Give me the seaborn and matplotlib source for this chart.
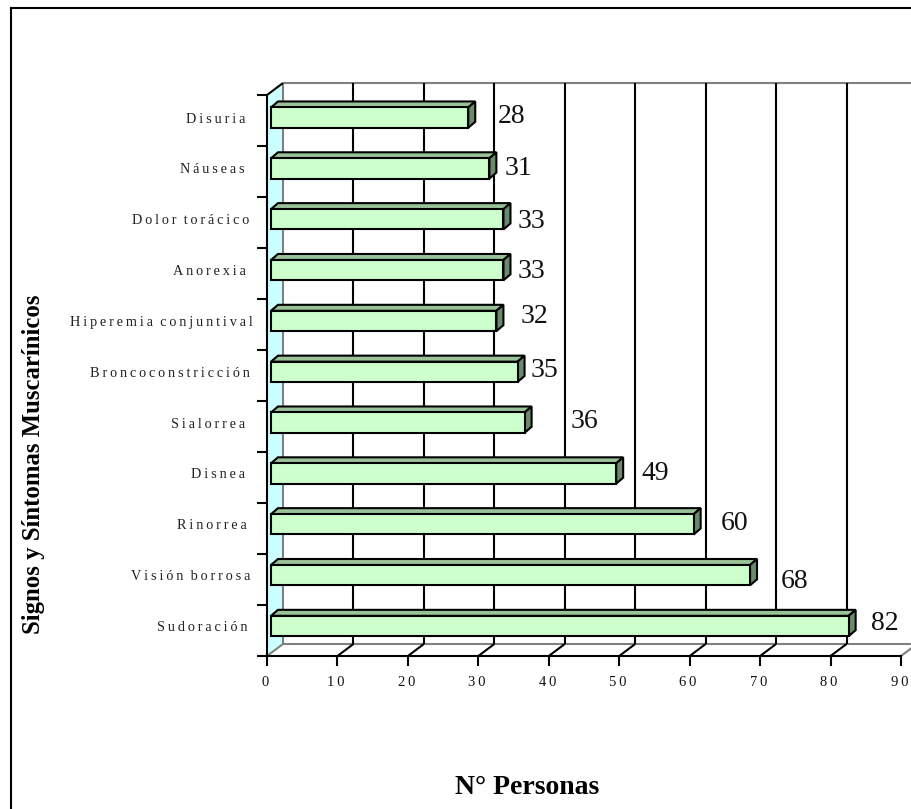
import matplotlib
matplotlib.use("Agg")
import matplotlib.pyplot as plt
import numpy as np
import pandas as pd
import seaborn as sns
from matplotlib.lines import Line2D
from matplotlib.patches import Polygon
from matplotlib.transforms import Affine2D, IdentityTransform

# ---- data ----
categories = ["Disuria", "Náuseas", "Dolor torácico", "Anorexia", "Hiperemia conjuntival",
              "Broncoconstricción", "Sialorrea", "Disnea", "Rinorrea", "Visión borrosa", "Sudoración"]
personas = [28, 31, 33, 33, 32, 35, 36, 49, 60, 68, 82]
x_ticks = [0, 10, 20, 30, 40, 50, 60, 70, 80, 90]
x_title = "N° Personas"
y_title = "Signos y Síntomas Muscarínicos"

# ---- style / placement (pixels) ----
label_dx = [47, 33, 32, 32, 42, 31, 64, 43, 45, 49, 40]
label_dy = [-1, 0, 2, 1, -4, -1, -1, 0, -1, 6, -3]
label_right = [245, 245, 249, 246, 253, 250, 245, 245, 247, 250, 248]
W, H = 912, 809
DX, DY = 16, 12          # depth of the chart box
BAR_SHIFT = 4
BAR_DX, BAR_DY = 7, 6    # depth of each bar
FACE, TOP, SIDE = "#CCFFCC", "#99C299", "#6B8A6B"
WALL, GREY = "#CCFFFF", "#808080"
LW = 1.5
SERIF = "Liberation Serif"
THIN = "\u2009"


def spaced(s):
    return "  ".join(THIN.join(w) for w in s.split(" "))


sns.set_theme(style="white")
plt.rcParams["font.family"] = [SERIF, "DejaVu Serif"]

fig = plt.figure(figsize=(W / 100, H / 100), dpi=100)
ax = fig.add_axes([267 / W, (H - 656) / H, (901 - 267) / W, (656 - 95) / H])
df = pd.DataFrame({"cat": categories, "n": personas})
sns.barplot(data=df, x="n", y="cat", orient="h", order=categories, color=FACE, saturation=1,
            edgecolor="black", linewidth=LW, width=0.40, ax=ax, zorder=5)
ax.set_xlim(0, 90)
ax.set_ylim(10.59, -0.445)
ax.set_xlabel("")
ax.set_ylabel("")

# axes cosmetics
for s in ("top", "right"):
    ax.spines[s].set_visible(False)
for s in ("left", "bottom"):
    ax.spines[s].set_color("black")
    ax.spines[s].set_linewidth(LW)
    ax.spines[s].set_zorder(8)
ax.set_xticks(x_ticks)
ax.set_xticklabels([THIN.join(str(v)) for v in x_ticks], fontsize=10.5, color="#111111")
ax.tick_params(axis="x", length=7.2, width=LW, pad=7, color="black", bottom=True)
for lab in ax.get_xticklabels():
    lab.set_transform(lab.get_transform() + Affine2D().translate(-1.5, 0))
ax.set_yticks(range(len(categories)))
ax.set_yticklabels([spaced(c) for c in categories], fontsize=10.3, color="#222222")
ax.tick_params(axis="y", which="major", length=0, left=False)
for t, r in zip(ax.yaxis.get_major_ticks(), label_right):
    t.set_pad((267 - r) * 0.72)
ax.set_yticks(np.linspace(-0.445, 10.59, len(categories) + 1), minor=True)
ax.tick_params(axis="y", which="minor", length=7.2, width=LW, color="black", left=True)

# 3-D box, built from the axes scales
to_disp = ax.transData.transform
y_top, y_bot = -0.445, 10.59
x0, x90 = 0, 90
p_tl = to_disp((x0, y_top))
p_bl = to_disp((x0, y_bot))
d = np.array([DX, DY])
ident = IdentityTransform()


def poly(pts, **kw):
    ax.add_patch(Polygon(pts, closed=True, transform=ident, clip_on=False, **kw))


def line(a, b, color, z=3):
    ax.add_line(Line2D([a[0], b[0]], [a[1], b[1]], transform=ident, color=color, lw=LW,
                       clip_on=False, zorder=z, solid_capstyle="butt"))


poly([p_bl, p_tl, p_tl + d, p_bl + d], facecolor=WALL, edgecolor="none", zorder=1)
line(p_tl + d, p_bl + d, GREY, 2)
line(p_tl, p_tl + d, "black", 7)
line(p_bl, p_bl + d, GREY, 2)
line(to_disp((x0, y_top)) + d, to_disp((x90, y_top)) + d, GREY, 2)
line(to_disp((x0, y_bot)) + d, to_disp((x90, y_bot)) + d, GREY, 2)
for v in x_ticks[1:]:
    front_top, front_bot = to_disp((v, y_top)), to_disp((v, y_bot))
    color = GREY if v == x_ticks[-1] else "black"
    line(front_bot, front_bot + d, color, 3)
    if v != x_ticks[-1]:
        line(front_top + d, front_bot + d, "black", 3)

# bars shifted off the wall, with top and side faces
shift = ax.transData + Affine2D().translate(BAR_SHIFT, 0)
for bar in list(ax.patches):
    if not hasattr(bar, "get_width") or bar.get_zorder() != 5:
        continue
    bar.set_transform(shift)
    bar.set_clip_on(False)
    bar.set_joinstyle("miter")
    x1 = bar.get_width()
    yt, yb = bar.get_y(), bar.get_y() + bar.get_height()
    a = to_disp((0, yt)) + [BAR_SHIFT, 0]
    b = to_disp((x1, yt)) + [BAR_SHIFT, 0]
    c = to_disp((x1, yb)) + [BAR_SHIFT, 0]
    e = np.array([BAR_DX, BAR_DY])
    poly([a, b, b + e, a + e], facecolor=TOP, edgecolor="black", linewidth=LW, zorder=4, joinstyle="miter")
    poly([b, c, c + e, b + e], facecolor=SIDE, edgecolor="black", linewidth=LW, zorder=4, joinstyle="miter")

# value labels
for i, (v, dx, dy) in enumerate(zip(personas, label_dx, label_dy)):
    ax.annotate(str(v), xy=(v, i), xycoords="data", xytext=(dx * 0.72, -dy * 0.72),
                textcoords="offset points", ha="center", va="center", fontsize=20,
                color="#111111", zorder=9, annotation_clip=False)

# titles
fig.text(527 / W, 1 - 788 / H, x_title, ha="center", va="center", fontsize=20, fontweight="bold", color="black")
fig.text(34 / W, 1 - 464 / H, y_title, ha="center", va="center", rotation=90, fontsize=17.8, fontweight="bold",
         color="black")

# outer frame: left and top only
fig.add_artist(Line2D([11 / W, 11 / W], [0, 1 - 8 / H], color="black", lw=LW, transform=fig.transFigure,
                      solid_capstyle="projecting"))
fig.add_artist(Line2D([11 / W, 1], [1 - 8 / H, 1 - 8 / H], color="black", lw=LW, transform=fig.transFigure,
                      solid_capstyle="projecting"))

fig.savefig("out.png", dpi=100, facecolor="white")
